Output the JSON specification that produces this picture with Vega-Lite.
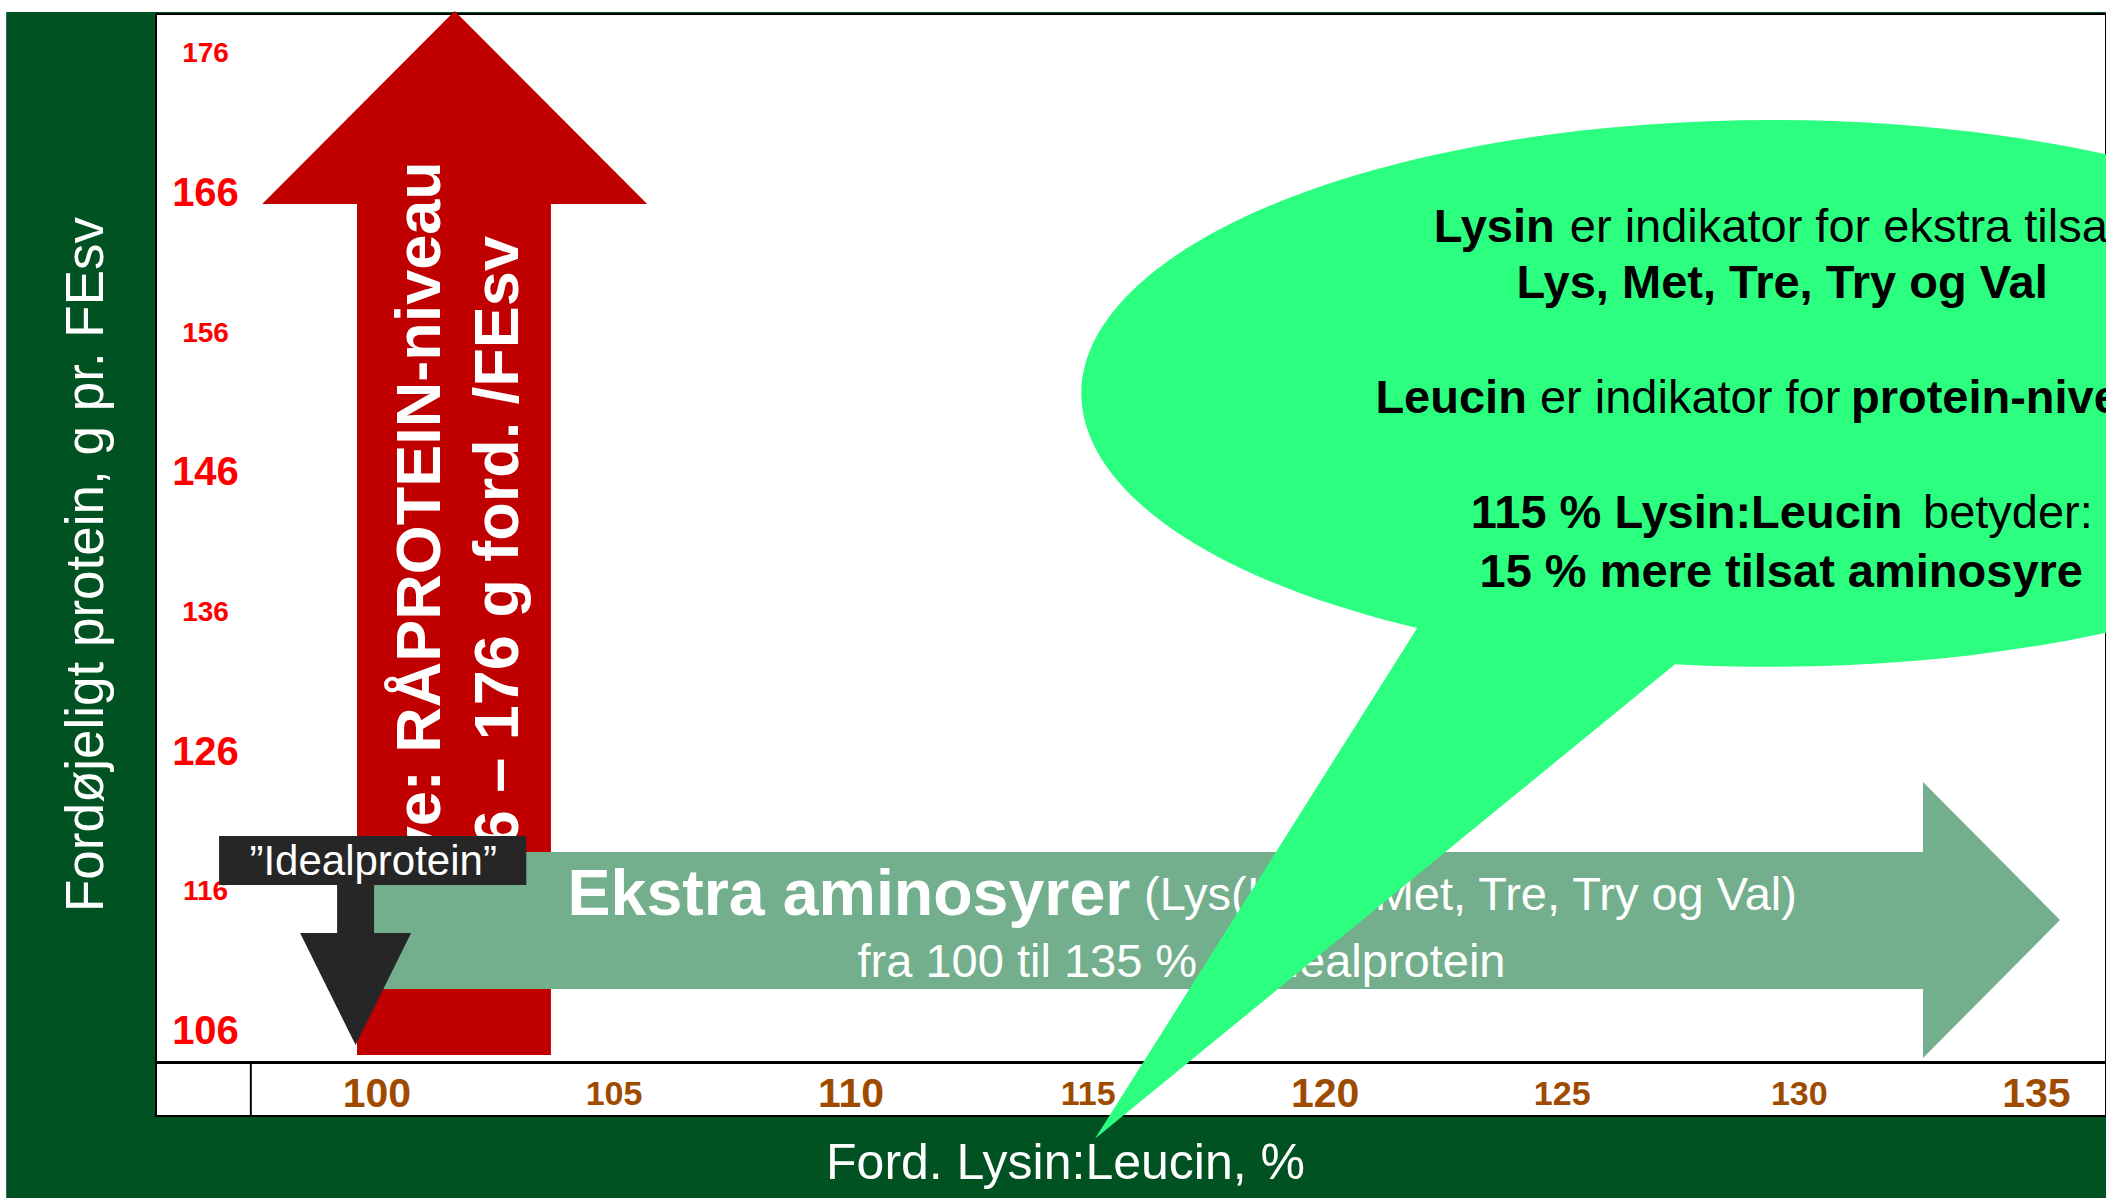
{
  "$schema": "https://vega.github.io/schema/vega-lite/v6.json",
  "width": 1950,
  "height": 1102,
  "autosize": "none",
  "padding": {"left": 156, "top": 14, "right": 0, "bottom": 82},
  "background": "#005222",
  "config": {
    "font": "Liberation Sans",
    "view": {"fill": "white", "stroke": "black", "strokeWidth": 2}
  },
  "datasets": {
    "strips": [
      {"x": 90, "x2": 140, "y": 178.98, "y2": 185},
      {"x": 90, "x2": 92.19, "y": 90, "y2": 185}
    ],
    "redShaft": [{"x": 99.59, "x2": 103.68, "y": 104.31, "y2": 165.3}],
    "redHead": [{"x": 101.65, "y": 165.23}],
    "redText": [
      {"x": 100.95, "y": 168.3, "t": "Kurve: RÅPROTEIN-niveau"},
      {"x": 102.58, "y": 162.94, "t": "106 – 176 g ford. /FEsv"}
    ],
    "greenShaft": [{"x": 99.84, "x2": 132.66, "y": 109.03, "y2": 118.84}],
    "greenHead": [{"x": 132.62, "y": 113.97}],
    "greenBold": [{"x": 104.03, "y": 115.69, "t": "Ekstra aminosyrer"}],
    "greenLeft": [{"x": 116.19, "y": 115.69, "t": "(Lys(Ile),"}],
    "greenRight": [{"x": 129.96, "y": 115.69, "t": "Met, Tre, Try og Val)"}],
    "greenCenter": [{"x": 116.98, "y": 110.89, "t": "fra 100 til 135 % af idealprotein"}],
    "blackShaft": [{"x": 99.17, "x2": 99.95, "y": 113.0, "y2": 117.55}],
    "blackHead": [{"x": 99.56, "y": 113.04}],
    "box": [{"x": 96.68, "x2": 103.16, "y": 119.98, "y2": 116.48}],
    "boxText": [{"x": 99.93, "y": 118.1, "t": "”Idealprotein”"}],
    "balloon": [{"x": 129.43, "y": 151.67}],
    "balloonCenter": [
      {"x": 129.65, "y": 159.51, "t": "Lys, Met, Tre, Try og Val"},
      {"x": 129.63, "y": 138.84, "t": "15 % mere tilsat aminosyre"}
    ],
    "balloonBoldLeft": [
      {"x": 122.30, "y": 163.54, "t": "Lysin"},
      {"x": 121.07, "y": 151.26, "t": "Leucin"},
      {"x": 131.10, "y": 151.26, "t": "protein-niveau"},
      {"x": 123.08, "y": 143.02, "t": "115 % Lysin:Leucin"}
    ],
    "balloonRegLeft": [
      {"x": 125.17, "y": 163.54, "t": "er indikator for ekstra tilsat"},
      {"x": 124.54, "y": 151.26, "t": "er indikator for"},
      {"x": 132.62, "y": 143.02, "t": "betyder:"}
    ],
    "tick": [{"x": 97.35, "y": 103.8, "y2": 99.94}]
  },
  "encoding": {
    "x": {
      "field": "x",
      "type": "quantitative",
      "scale": {"domain": [95.35, 136.48], "nice": false, "zero": false},
      "axis": {
        "orient": "bottom",
        "values": [100, 105, 110, 115, 120, 125, 130, 135],
        "offset": -54,
        "domain": true,
        "domainColor": "black",
        "domainWidth": 3,
        "ticks": false,
        "tickSize": 0,
        "grid": false,
        "labelPadding": 32,
        "labelAlign": "center",
        "labelBaseline": "middle",
        "labelColor": "#9E4B00",
        "labelFont": "Liberation Sans",
        "labelFontWeight": "bold",
        "labelFontSize": {"condition": {"test": "indexof([100,110,120,135], datum.value) >= 0", "value": 41}, "value": 34},
        "labelFlush": false,
        "labelOverlap": false,
        "title": "Ford. Lysin:Leucin, %",
        "titleColor": "white",
        "titleFont": "Liberation Sans",
        "titleFontSize": 50,
        "titleFontWeight": "normal",
        "titleX": 909,
        "titleY": 116,
        "titleAngle": 0,
        "titleAlign": "center",
        "titleBaseline": "alphabetic"
      }
    },
    "y": {
      "field": "y",
      "type": "quantitative",
      "scale": {"domain": [99.94, 178.84], "nice": false, "zero": false},
      "axis": {
        "orient": "left",
        "values": [106, 116, 126, 136, 146, 156, 166, 176],
        "offset": 0,
        "domain": false,
        "ticks": false,
        "tickSize": 0,
        "grid": false,
        "labelPadding": -49,
        "labelAlign": "center",
        "labelBaseline": "middle",
        "labelColor": "#FF0000",
        "labelFont": "Liberation Sans",
        "labelFontWeight": "bold",
        "labelFontSize": {"condition": {"test": "(datum.value - 106) % 20 == 0", "value": 40}, "value": 28},
        "labelFlush": false,
        "labelOverlap": false,
        "title": "Fordøjeligt protein, g pr. FEsv",
        "titleColor": "white",
        "titleFont": "Liberation Sans",
        "titleFontSize": 53,
        "titleFontWeight": "normal",
        "titleX": -54,
        "titleY": 550,
        "titleAngle": 270,
        "titleAlign": "center",
        "titleBaseline": "alphabetic"
      }
    }
  },
  "layer": [
    {
      "data": {"name": "strips"},
      "mark": {"type": "rect", "fill": "white"},
      "encoding": {"x2": {"field": "x2"}, "y2": {"field": "y2"}}
    },
    {
      "data": {"name": "redShaft"},
      "mark": {"type": "rect", "fill": "#C00000"},
      "encoding": {"x2": {"field": "x2"}, "y2": {"field": "y2"}}
    },
    {
      "data": {"name": "redHead"},
      "mark": {"type": "point", "shape": "M-1,0L1,0L0,-1.0026Z", "size": 148225, "filled": true, "fill": "#C00000", "opacity": 1, "strokeWidth": 0}
    },
    {
      "data": {"name": "redText"},
      "mark": {"type": "text", "angle": 270, "align": "right", "baseline": "middle", "fontSize": 63, "fontWeight": "bold", "color": "white", "font": "Liberation Sans"},
      "encoding": {"text": {"field": "t"}}
    },
    {
      "data": {"name": "greenShaft"},
      "mark": {"type": "rect", "fill": "#73AF8C"},
      "encoding": {"x2": {"field": "x2"}, "y2": {"field": "y2"}}
    },
    {
      "data": {"name": "greenHead"},
      "mark": {"type": "point", "shape": "M0,-1L0,1L0.9928,0Z", "size": 76176, "filled": true, "fill": "#73AF8C", "opacity": 1, "strokeWidth": 0}
    },
    {
      "data": {"name": "greenBold"},
      "mark": {"type": "text", "align": "left", "baseline": "middle", "fontSize": 64.5, "fontWeight": "bold", "color": "white", "font": "Liberation Sans"},
      "encoding": {"text": {"field": "t"}}
    },
    {
      "data": {"name": "greenLeft"},
      "mark": {"type": "text", "align": "left", "baseline": "middle", "fontSize": 47, "color": "white", "font": "Liberation Sans"},
      "encoding": {"text": {"field": "t"}}
    },
    {
      "data": {"name": "greenRight"},
      "mark": {"type": "text", "align": "right", "baseline": "middle", "fontSize": 47, "color": "white", "font": "Liberation Sans"},
      "encoding": {"text": {"field": "t"}}
    },
    {
      "data": {"name": "greenCenter"},
      "mark": {"type": "text", "align": "center", "baseline": "middle", "fontSize": 47, "color": "white", "font": "Liberation Sans"},
      "encoding": {"text": {"field": "t"}}
    },
    {
      "data": {"name": "blackShaft"},
      "mark": {"type": "rect", "fill": "#262626"},
      "encoding": {"x2": {"field": "x2"}, "y2": {"field": "y2"}}
    },
    {
      "data": {"name": "blackHead"},
      "mark": {"type": "point", "shape": "M-1,0L1,0L0,2.018Z", "size": 12321, "filled": true, "fill": "#262626", "opacity": 1, "strokeWidth": 0}
    },
    {
      "data": {"name": "box"},
      "mark": {"type": "rect", "fill": "#262626"},
      "encoding": {"x2": {"field": "x2"}, "y2": {"field": "y2"}}
    },
    {
      "data": {"name": "boxText"},
      "mark": {"type": "text", "align": "center", "baseline": "middle", "fontSize": 42, "color": "white", "font": "Liberation Sans"},
      "encoding": {"text": {"field": "t"}}
    },
    {
      "data": {"name": "balloon"},
      "mark": {"type": "point", "shape": "M-0.5136,0.3398A1,0.396,0,1,1,-0.1401,0.3921L-0.9805,1.0798Z", "size": 1906000, "filled": true, "fill": "#2CFF80", "opacity": 1, "strokeWidth": 0}
    },
    {
      "data": {"name": "balloonCenter"},
      "mark": {"type": "text", "align": "center", "baseline": "middle", "fontSize": 47, "fontWeight": "bold", "color": "black", "font": "Liberation Sans"},
      "encoding": {"text": {"field": "t"}}
    },
    {
      "data": {"name": "balloonBoldLeft"},
      "mark": {"type": "text", "align": "left", "baseline": "middle", "fontSize": 47, "fontWeight": "bold", "color": "black", "font": "Liberation Sans"},
      "encoding": {"text": {"field": "t"}}
    },
    {
      "data": {"name": "balloonRegLeft"},
      "mark": {"type": "text", "align": "left", "baseline": "middle", "fontSize": 47, "color": "black", "font": "Liberation Sans"},
      "encoding": {"text": {"field": "t"}}
    },
    {
      "data": {"name": "tick"},
      "mark": {"type": "rule", "color": "black", "strokeWidth": 2},
      "encoding": {"y2": {"field": "y2"}}
    }
  ]
}
